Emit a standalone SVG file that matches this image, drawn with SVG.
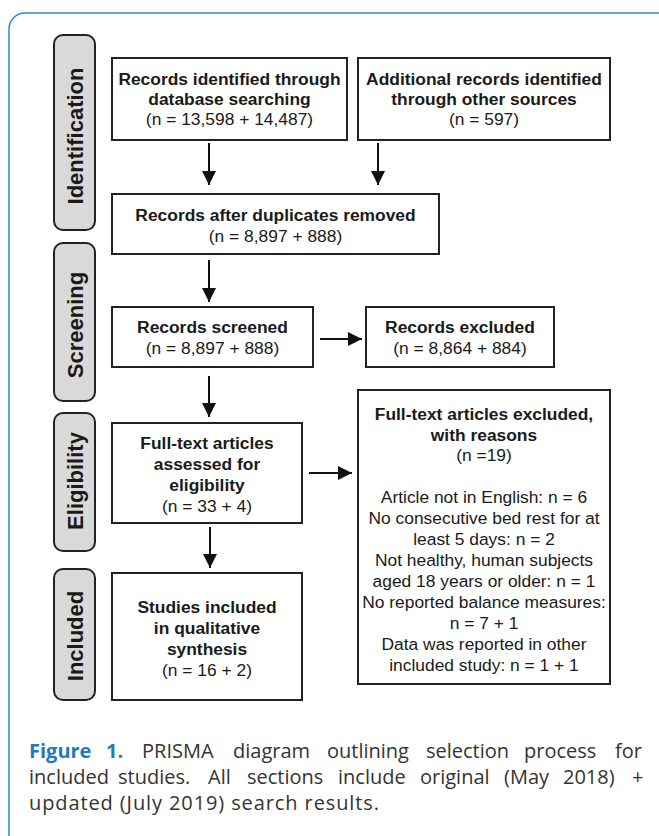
<svg xmlns="http://www.w3.org/2000/svg" width="659" height="836" viewBox="0 0 659 836">
<style>
.box{fill:#fff;stroke:#222;stroke-width:2}
.lab{fill:#d9d9d9;stroke:#222;stroke-width:2}
.b{font-family:"Liberation Sans",Arial,sans-serif;font-size:17.4px;font-weight:bold;fill:#1a1a1a;text-anchor:middle}
.r{font-family:"Liberation Sans",Arial,sans-serif;font-size:17.4px;fill:#1a1a1a;text-anchor:middle}
.lt{font-family:"Liberation Sans",Arial,sans-serif;font-size:22px;font-weight:bold;fill:#1a1a1a;text-anchor:middle}
.cap{font-family:"Open Sans",sans-serif;font-size:20px;fill:#333}
.fig{font-family:"Open Sans",sans-serif;font-size:20px;font-weight:bold;fill:#1f7ac2}
.conn line{stroke:#111;stroke-width:2;marker-end:url(#ah)}
</style>
<defs>
<marker id="ah" markerUnits="userSpaceOnUse" markerWidth="14" markerHeight="14" refX="14" refY="7" orient="auto">
<path d="M0,0 L14,7 L0,14 z" fill="#111"/>
</marker>
</defs>
<rect x="9" y="13" width="680" height="840" rx="16" fill="#fff" stroke="#2b88d8" stroke-width="1.5"/>

<g id="label-identification">
<rect class="lab" x="54" y="35" width="41" height="195" rx="9"/>
<text class="lt" transform="translate(83,136) rotate(-90)">Identification</text>
</g>
<g id="label-screening">
<rect class="lab" x="54" y="243" width="41" height="158" rx="9"/>
<text class="lt" transform="translate(83,325) rotate(-90)">Screening</text>
</g>
<g id="label-eligibility">
<rect class="lab" x="54" y="413" width="41" height="138" rx="9"/>
<text class="lt" transform="translate(83,481) rotate(-90)">Eligibility</text>
</g>
<g id="label-included">
<rect class="lab" x="54" y="569" width="41" height="131" rx="9"/>
<text class="lt" transform="translate(83,636) rotate(-90)">Included</text>
</g>

<g id="db-search">
<rect class="box" x="112" y="58" width="235" height="82"/>
<text class="b" x="229.5" y="85">Records identified through</text>
<text class="b" x="229.5" y="105">database searching</text>
<text class="r" x="229.5" y="125">(n = 13,598 + 14,487)</text>
</g>
<g id="other-sources">
<rect class="box" x="358" y="58" width="252" height="82"/>
<text class="b" x="484" y="85">Additional records identified</text>
<text class="b" x="484" y="105">through other sources</text>
<text class="r" x="484" y="125">(n = 597)</text>
</g>
<g id="duplicates-removed">
<rect class="box" x="112" y="194" width="327" height="60"/>
<text class="b" x="275.5" y="221">Records after duplicates removed</text>
<text class="r" x="275.5" y="242">(n = 8,897 + 888)</text>
</g>
<g id="screened">
<rect class="box" x="112" y="307" width="201" height="60"/>
<text class="b" x="212.5" y="333">Records screened</text>
<text class="r" x="212.5" y="354">(n = 8,897 + 888)</text>
</g>
<g id="excluded">
<rect class="box" x="366" y="307" width="188" height="60"/>
<text class="b" x="460" y="333">Records excluded</text>
<text class="r" x="460" y="354">(n = 8,864 + 884)</text>
</g>
<g id="fulltext-assessed">
<rect class="box" x="112" y="423" width="190" height="100"/>
<text class="b" x="207" y="449">Full-text articles</text>
<text class="b" x="207" y="470">assessed for</text>
<text class="b" x="207" y="491">eligibility</text>
<text class="r" x="207" y="512">(n = 33 + 4)</text>
</g>
<g id="fulltext-excluded">
<rect class="box" x="358" y="390" width="252" height="294"/>
<text class="b" x="484" y="419.5">Full-text articles excluded,</text>
<text class="b" x="484" y="440.5">with reasons</text>
<text class="r" x="484" y="461">(n =19)</text>
<text class="r" x="484" y="502.5">Article not in English: n = 6</text>
<text class="r" x="484" y="523.5">No consecutive bed rest for at</text>
<text class="r" x="484" y="544.5">least 5 days: n = 2</text>
<text class="r" x="484" y="565.5">Not healthy, human subjects</text>
<text class="r" x="484" y="586.5">aged 18 years or older: n = 1</text>
<text class="r" x="484" y="607.5">No reported balance measures:</text>
<text class="r" x="484" y="628.5">n = 7 + 1</text>
<text class="r" x="484" y="649.5">Data was reported in other</text>
<text class="r" x="484" y="670.5">included study: n = 1 + 1</text>
</g>
<g id="included-studies">
<rect class="box" x="112" y="573" width="190" height="127"/>
<text class="b" x="207" y="612.5">Studies included</text>
<text class="b" x="207" y="633.5">in qualitative</text>
<text class="b" x="207" y="654.5">synthesis</text>
<text class="r" x="207" y="675.5">(n = 16 + 2)</text>
</g>

<g id="connectors" class="conn">
<line x1="209" y1="143" x2="209" y2="185"/>
<line x1="378" y1="143" x2="378" y2="185"/>
<line x1="209" y1="260" x2="209" y2="302"/>
<line x1="320" y1="339" x2="362" y2="339"/>
<line x1="209" y1="376" x2="209" y2="417"/>
<line x1="309" y1="473" x2="352" y2="473"/>
<line x1="210" y1="527" x2="210" y2="568"/>
</g>

<g id="caption">
<text y="758"><tspan class="fig" x="29">Figure</tspan><tspan class="fig" x="106">1.</tspan><tspan class="cap" x="142">PRISMA</tspan><tspan class="cap" x="233">diagram</tspan><tspan class="cap" x="327">outlining</tspan><tspan class="cap" x="426">selection</tspan><tspan class="cap" x="524">process</tspan><tspan class="cap" x="615">for</tspan></text>
<text y="784" class="cap"><tspan x="29">included</tspan><tspan x="118">studies.</tspan><tspan x="208">All</tspan><tspan x="247">sections</tspan><tspan x="338">include</tspan><tspan x="420">original</tspan><tspan x="504">(May</tspan><tspan x="563">2018)</tspan><tspan x="632">+</tspan></text>
<text y="810" class="cap" x="29" textLength="350" lengthAdjust="spacing">updated (July 2019) search results.</text>
</g>
</svg>
